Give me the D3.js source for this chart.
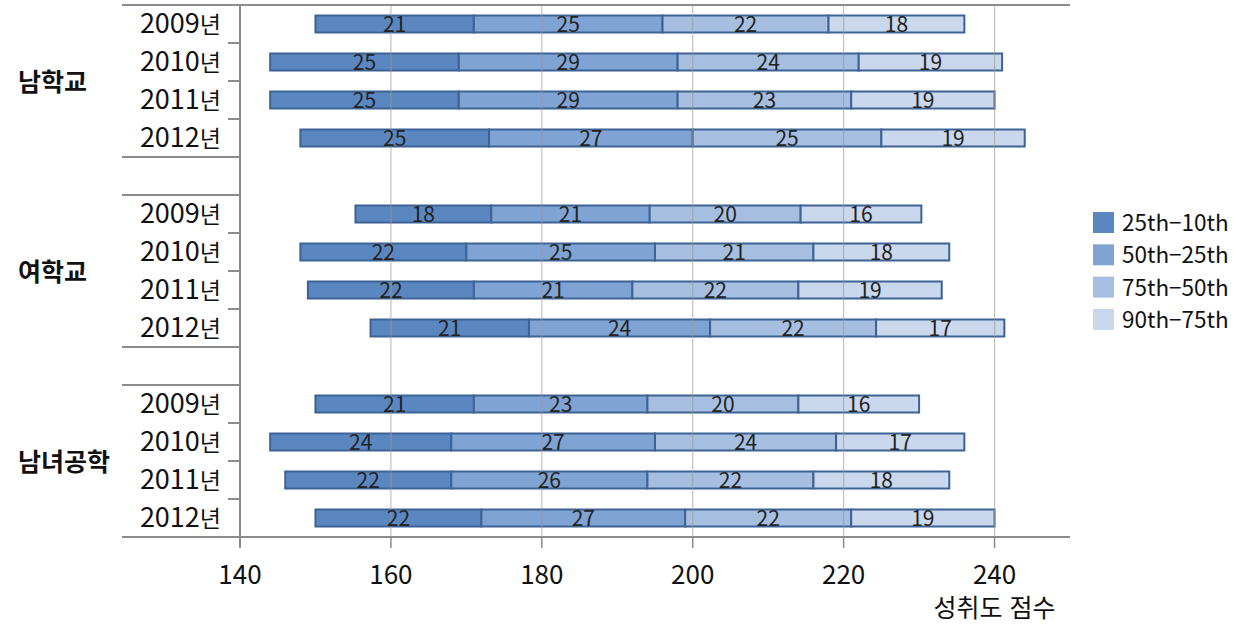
<!DOCTYPE html>
<html lang="ko">
<head>
<meta charset="UTF-8">
<title>성취도 점수</title>
<script src="https://d3js.org/d3.v7.min.js"></script>
<style>
    body { margin: 0; background: #fff; }
    svg { display: block; font-family: "Noto Sans CJK KR", sans-serif; }
</style>
</head>
<body>
<div id="chart"></div>
<script>
    var width = 1240;
    var height = 626;

    // data
    var groups = ['남학교', '여학교', '남녀공학'];
    var years = ['2009', '2010', '2011', '2012'];
    var seriesNames = ['25th−10th', '50th−25th', '75th−50th', '90th−75th'];
    // 10th percentile (start of each bar)
    var starts = [
        [150, 144, 144, 148],
        [155.3, 148, 149, 157.3],
        [150, 144, 146, 150]
    ];
    var seg1 = [[21, 25, 25, 25], [18, 22, 22, 21], [21, 24, 22, 22]];
    var seg2 = [[25, 29, 29, 27], [21, 25, 21, 24], [23, 27, 26, 27]];
    var seg3 = [[22, 24, 23, 25], [20, 21, 22, 22], [20, 24, 22, 22]];
    var seg4 = [[18, 19, 19, 19], [16, 18, 19, 17], [16, 17, 18, 19]];
    var xTicks = [140, 160, 180, 200, 220, 240];
    var colors = ['#5b87c1', '#7fa3d2', '#a6bfe1', '#c9d8ed'];

    var plotLeft = 240, plotRight = 1070, plotTop = 5, plotBottom = 537;

    var svg = d3.select('#chart').append('svg')
        .attr('width', width)
        .attr('height', height);

    // rows: 4 years, blank, 4 years, blank, 4 years
    var rowKeys = [];
    groups.forEach(function (g, gi) {
        years.forEach(function (y) { rowKeys.push(g + '|' + y); });
        if (gi < groups.length - 1) rowKeys.push('gap' + gi);
    });

    var x = d3.scaleLinear().domain([140, 250]).range([plotLeft, plotRight]);
    var yScale = d3.scaleBand().domain(rowKeys).range([plotTop, plotBottom]);
    var rowH = yScale.bandwidth();
    var barH = 17;

    // build stacked records
    var rows = [];
    groups.forEach(function (g, gi) {
        years.forEach(function (yr, yi) {
            var vals = [seg1[gi][yi], seg2[gi][yi], seg3[gi][yi], seg4[gi][yi]];
            var s = starts[gi][yi];
            vals.forEach(function (v, k) {
                rows.push({ key: g + '|' + yr, k: k, x0: s, x1: s + v, v: v });
                s += v;
            });
        });
    });

    // bars
    svg.append('g').selectAll('rect')
        .data(rows)
        .enter()
        .append('rect')
        .attr('x', function (d) { return x(d.x0); })
        .attr('y', function (d) { return yScale(d.key) + (rowH - barH) / 2; })
        .attr('width', function (d) { return x(d.x1) - x(d.x0); })
        .attr('height', barH)
        .attr('fill', function (d) { return colors[d.k]; })
        .attr('stroke', '#3d6394')
        .attr('stroke-width', 2);

    // gridlines (drawn over bars, light)
    svg.append('g').selectAll('line')
        .data(xTicks.slice(1))
        .enter()
        .append('line')
        .attr('x1', function (d) { return x(d); })
        .attr('x2', function (d) { return x(d); })
        .attr('y1', plotTop)
        .attr('y2', plotBottom)
        .attr('stroke', '#9a9a9a')
        .attr('stroke-opacity', 0.6)
        .attr('stroke-width', 1.2);

    // value labels
    svg.append('g').selectAll('text')
        .data(rows)
        .enter()
        .append('text')
        .attr('x', function (d) { return (x(d.x0) + x(d.x1)) / 2; })
        .attr('y', function (d) { return yScale(d.key) + rowH / 2 + 7.5; })
        .attr('text-anchor', 'middle')
        .attr('font-size', 21)
        .attr('fill', '#222')
        .text(function (d) { return d.v; });

    // axes lines
    var axisColor = '#8c8c8c';
    svg.append('line').attr('x1', 122).attr('x2', plotRight).attr('y1', plotTop).attr('y2', plotTop)
        .attr('stroke', axisColor).attr('stroke-width', 2);
    svg.append('line').attr('x1', 122).attr('x2', plotRight).attr('y1', plotBottom).attr('y2', plotBottom)
        .attr('stroke', axisColor).attr('stroke-width', 2);
    svg.append('line').attr('x1', plotLeft).attr('x2', plotLeft).attr('y1', plotTop).attr('y2', plotBottom + 11)
        .attr('stroke', axisColor).attr('stroke-width', 2);

    // left axis separators and ticks
    var sepY = [];
    rowKeys.forEach(function (k, i) {
        if (i === 0) return;
        var prev = rowKeys[i - 1];
        var isGroupEdge = k.indexOf('gap') === 0 || prev.indexOf('gap') === 0;
        sepY.push({ y: yScale(k), long: isGroupEdge });
    });
    svg.append('g').selectAll('line')
        .data(sepY)
        .enter()
        .append('line')
        .attr('x1', function (d) { return d.long ? 122 : 228; })
        .attr('x2', plotLeft)
        .attr('y1', function (d) { return d.y; })
        .attr('y2', function (d) { return d.y; })
        .attr('stroke', axisColor)
        .attr('stroke-width', 2);

    // x ticks
    svg.append('g').selectAll('line')
        .data(xTicks)
        .enter()
        .append('line')
        .attr('x1', function (d) { return x(d); })
        .attr('x2', function (d) { return x(d); })
        .attr('y1', plotBottom)
        .attr('y2', plotBottom + 11)
        .attr('stroke', axisColor)
        .attr('stroke-width', 1.5);

    svg.append('g').selectAll('text')
        .data(xTicks)
        .enter()
        .append('text')
        .attr('x', function (d) { return x(d); })
        .attr('y', 584)
        .attr('text-anchor', 'middle')
        .attr('font-size', 26)
        .attr('fill', '#111')
        .text(function (d) { return d; });

    svg.append('text')
        .attr('x', x(240))
        .attr('y', 617)
        .attr('text-anchor', 'middle')
        .attr('font-size', 25)
        .attr('fill', '#111')
        .text('성취도 점수');

    // year labels
    var yearRows = rowKeys.filter(function (k) { return k.indexOf('gap') !== 0; });
    var yl = svg.append('g').selectAll('text')
        .data(yearRows)
        .enter()
        .append('text')
        .attr('x', 221)
        .attr('y', function (d) { return yScale(d) + rowH / 2 + 9; })
        .attr('text-anchor', 'end')
        .attr('font-size', 27)
        .attr('fill', '#111');
    yl.append('tspan').text(function (d) { return d.split('|')[1]; });
    yl.append('tspan')
        .attr('font-size', 23)
        .text('년');

    // group labels
    svg.append('g').selectAll('text')
        .data(groups)
        .enter()
        .append('text')
        .attr('x', 18)
        .attr('y', function (g) {
            return (yScale(g + '|' + years[1]) + yScale(g + '|' + years[2]) + rowH) / 2 + 10;
        })
        .attr('font-size', 25)
        .attr('font-weight', 'bold')
        .attr('fill', '#111')
        .text(function (g) { return g; });

    // legend
    var legend = svg.append('g').attr('transform', 'translate(1093,212)');
    var item = legend.selectAll('g')
        .data(seriesNames)
        .enter()
        .append('g')
        .attr('transform', function (d, i) { return 'translate(0,' + (i * 32.3) + ')'; });
    item.append('rect')
        .attr('width', 21)
        .attr('height', 21)
        .attr('fill', function (d, i) { return colors[i]; });
    item.append('text')
        .attr('x', 29)
        .attr('y', 19)
        .attr('font-size', 22.5)
        .attr('fill', '#111')
        .text(function (d) { return d; });
</script>
</body>
</html>
